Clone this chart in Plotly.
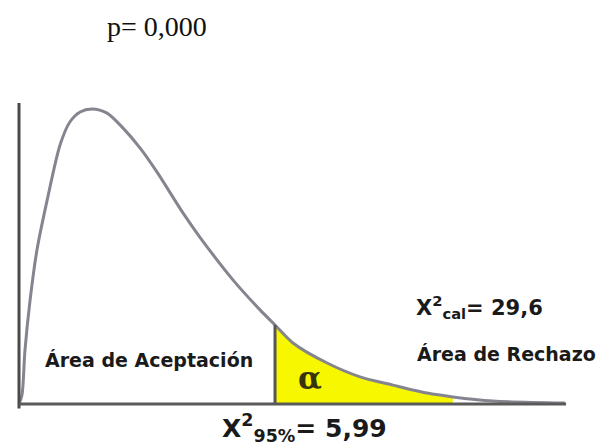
import plotly.graph_objects as go

# curve (x in chi-square units, y arbitrary height)
curve_x = [0.00, 0.07, 0.14, 0.26, 0.42, 0.66, 0.96, 1.19, 1.43, 1.71, 2.06,
           2.43, 2.83, 3.23, 3.84, 4.23, 5.01, 5.64, 5.99, 6.41, 7.21, 7.98,
           8.75, 9.55, 10.15, 11.09, 12.77]
curve_y = [0.00, 0.31, 1.83, 3.53, 5.22, 6.92, 8.78, 9.56, 9.90, 10.00, 9.86,
           9.36, 8.68, 7.86, 6.47, 5.66, 4.20, 3.19, 2.68, 2.07, 1.39, 0.92,
           0.64, 0.37, 0.24, 0.10, 0.03]

critical = 5.99          # X2 95%
shade_end = 10.15        # yellow stops here
axis_x_end = 12.8
axis_y_top = 10.2

p_text = "p= 0,000"
chi_crit_text = "X<sup>2</sup><sub>95%</sub>= 5,99"
chi_cal_text = "X<sup>2</sup><sub>cal</sub>= 29,6"
accept_text = "Área de Aceptación"
reject_text = "Área de Rechazo"

# shaded tail
tail = [(x, y) for x, y in zip(curve_x, curve_y) if critical <= x <= shade_end]
tail_x = [t[0] for t in tail] + [shade_end, critical]
tail_y = [t[1] for t in tail] + [0, 0]
crit_h = curve_y[curve_x.index(critical)]

fig = go.Figure()
fig.add_trace(go.Scatter(x=tail_x, y=tail_y, fill="toself", fillcolor="#f7f700",
                         line=dict(width=0), mode="lines", hoverinfo="skip"))
fig.add_trace(go.Scatter(x=curve_x, y=curve_y, mode="lines",
                         line=dict(color="#85858f", width=3, shape="spline",
                                   smoothing=0.8)))
fig.add_trace(go.Scatter(x=[critical, critical], y=[0, crit_h], mode="lines",
                         line=dict(color="#55555a", width=3)))
fig.add_trace(go.Scatter(x=[0, 0], y=[-0.15, axis_y_top], mode="lines",
                         line=dict(color="#4a4a4a", width=3)))
fig.add_trace(go.Scatter(x=[0, axis_x_end], y=[0, 0], mode="lines",
                         line=dict(color="#5a5a5a", width=3)))

bold = dict(family="DejaVu Sans", color="#1a1a1a")

def note(text, px, py, size, **kw):
    font = dict(bold, size=size)
    font.update(kw.pop("font", {}))
    fig.add_annotation(text=text, xref="paper", yref="paper",
                       x=px / 599, y=1 - py / 445, showarrow=False,
                       xanchor=kw.pop("xanchor", "left"), yanchor="middle",
                       font=font, **kw)

note(p_text, 105, 26, 28, font=dict(family="Liberation Serif", color="#111111"))
note("<b>" + accept_text + "</b>", 43, 360, 19)
note("<b>" + reject_text + "</b>", 415, 354, 19)
note("<b>" + chi_cal_text + "</b>", 414, 307, 21)
note("<b>" + chi_crit_text + "</b>", 220, 428, 25)
note("<b>α</b>", 310, 378, 31, xanchor="center",
     font=dict(family="DejaVu Serif", color="#35340f"))

fig.update_layout(
    width=599, height=445, showlegend=False,
    margin=dict(l=0, r=0, t=0, b=0),
    plot_bgcolor="white", paper_bgcolor="white",
    xaxis=dict(range=[-19 / 42.74, 580 / 42.74], visible=False),
    yaxis=dict(range=[-41 / 29.5, 404 / 29.5], visible=False),
)
fig.write_html("out.html", config={"displayModeBar": False},
               post_script="document.body.style.margin='0';")
